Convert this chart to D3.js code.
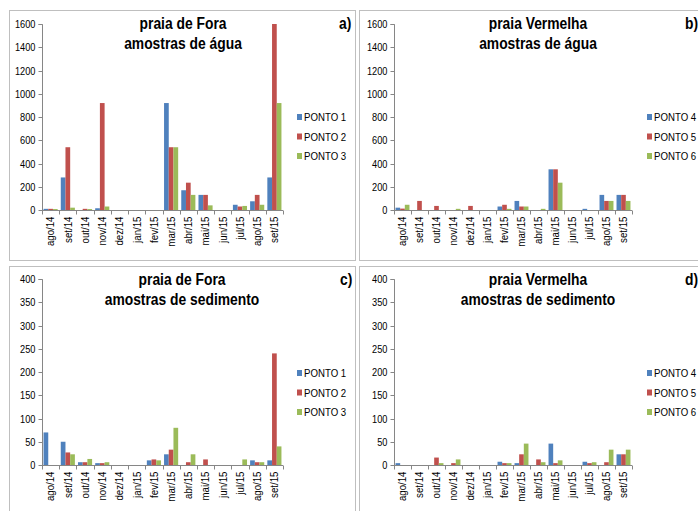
<!DOCTYPE html>
<html><head><meta charset="utf-8">
<script src="https://cdn.jsdelivr.net/npm/d3@7"></script>
<style>
html,body{margin:0;padding:0;background:#fff;}
svg{display:block;}
text{font-family:"Liberation Sans",Arial,sans-serif;}
</style></head>
<body>
<svg id="c" width="698" height="511"></svg>
<script>
const months = ["ago/14","set/14","out/14","nov/14","dez/14","jan/15","fev/15","mar/15","abr/15","mai/15","jun/15","jul/15","ago/15","set/15"];

// a) praia de Fora - água
const ponto1Agua = [10, 280, 0, 15, 0, 0, 0, 920, 170, 130, 0, 45, 75, 280];
const ponto2Agua = [10, 540, 10, 920, 0, 0, 0, 540, 235, 130, 0, 30, 130, 1600];
const ponto3Agua = [8, 20, 8, 30, 0, 0, 0, 540, 130, 40, 0, 35, 45, 920];
// b) praia Vermelha - água
const ponto4Agua = [20, 0, 0, 0, 0, 0, 30, 78, 0, 350, 0, 10, 130, 130];
const ponto5Agua = [12, 78, 35, 0, 35, 0, 45, 30, 0, 350, 0, 0, 78, 130];
const ponto6Agua = [45, 0, 0, 10, 0, 0, 10, 30, 10, 235, 0, 0, 78, 78];
// c) praia de Fora - sedimento
const ponto1Sed = [70, 50, 6, 4, 0, 0, 10, 23, 0, 0, 0, 0, 10, 10];
const ponto2Sed = [0, 27, 6, 4, 0, 0, 12, 33, 6, 12, 0, 0, 6, 240];
const ponto3Sed = [0, 23, 13, 6, 0, 0, 10, 80, 23, 0, 0, 12, 6, 40];
// d) praia Vermelha - sedimento
const ponto4Sed = [4, 0, 0, 0, 0, 0, 7, 4, 0, 46, 0, 7, 0, 23];
const ponto5Sed = [0, 0, 16, 4, 0, 0, 4, 23, 12, 4, 0, 4, 6, 23];
const ponto6Sed = [0, 0, 4, 12, 0, 0, 4, 46, 6, 10, 0, 6, 33, 33];

const aguaTicks = [0, 200, 400, 600, 800, 1000, 1200, 1400, 1600];
const sedTicks = [0, 50, 100, 150, 200, 250, 300, 350, 400];

const colors = ["#4F81BD", "#C0504D", "#9BBB59"];

const panels = [
  {box:[9.5,10.5,346,250], plot:{x0:42,x1:283,yT:24,y0:210}, max:1600, ticks:aguaTicks,
   title:["praia de Fora","amostras de água"], tx:183, letter:"a)", lx:339, names:["PONTO 1","PONTO 2","PONTO 3"], lgx:297,
   series:[ponto1Agua,ponto2Agua,ponto3Agua]},
  {box:[359.5,10.5,346,250], plot:{x0:394,x1:632,yT:24,y0:210}, max:1600, ticks:aguaTicks,
   title:["praia Vermelha","amostras de água"], tx:538, letter:"b)", lx:685, names:["PONTO 4","PONTO 5","PONTO 6"], lgx:647,
   series:[ponto4Agua,ponto5Agua,ponto6Agua]},
  {box:[9.5,266.5,346,250], plot:{x0:42,x1:283,yT:279,y0:465}, max:400, ticks:sedTicks,
   title:["praia de Fora","amostras de sedimento"], tx:182, letter:"c)", lx:340, names:["PONTO 1","PONTO 2","PONTO 3"], lgx:297,
   series:[ponto1Sed,ponto2Sed,ponto3Sed]},
  {box:[359.5,266.5,346,250], plot:{x0:394,x1:632,yT:279,y0:465}, max:400, ticks:sedTicks,
   title:["praia Vermelha","amostras de sedimento"], tx:538, letter:"d)", lx:685, names:["PONTO 4","PONTO 5","PONTO 6"], lgx:647,
   series:[ponto4Sed,ponto5Sed,ponto6Sed]}
];

const svg = d3.select("#c");
const axisColor = "#868686";
const narrow = 0.84;

function ctext(parent, x, y, str, size, bold, anchor) {
  const gg = parent.append("g").attr("transform", `translate(${x},${y}) scale(${narrow},1)`);
  return gg.append("text").attr("x",0).attr("y",0)
    .attr("text-anchor", anchor || "start")
    .attr("font-size", size + "px")
    .attr("font-weight", bold ? "bold" : "normal")
    .attr("fill", "#000").text(str);
}

panels.forEach(p => {
  const g = svg.append("g");
  g.append("rect").attr("x",p.box[0]).attr("y",p.box[1]).attr("width",p.box[2]).attr("height",p.box[3])
    .attr("fill","#fff").attr("stroke","#bfbfbf").attr("stroke-width",1);

  const pl = p.plot;
  const x = d3.scaleBand().domain(months).range([pl.x0, pl.x1]).padding(0);
  const bw = x.bandwidth();
  const xi = d3.scaleBand().domain([0,1,2]).range([bw*0.09, bw*0.91]).padding(0);
  const y = d3.scaleLinear().domain([0, p.max]).range([pl.y0, pl.yT]);

  // bars
  p.series.forEach((s, si) => {
    g.append("g").selectAll("rect").data(s).join("rect")
      .attr("x", (d,i) => x(months[i]) + xi(si))
      .attr("width", xi.bandwidth())
      .attr("y", d => y(d))
      .attr("height", d => y(0) - y(d))
      .attr("fill", colors[si]);
  });

  // y axis
  const ya = d3.axisLeft(y).tickValues(p.ticks).tickSize(4).tickPadding(3).tickFormat(d3.format("d"));
  const yg = g.append("g").attr("transform",`translate(${pl.x0+0.5},0)`).call(ya);
  yg.select(".domain").attr("stroke",axisColor).attr("d",`M-4,${pl.yT+0.5}H0V${pl.y0+0.5}`);
  yg.selectAll(".tick line").attr("stroke",axisColor);
  yg.selectAll(".tick").attr("transform", d => `translate(0,${Math.round(y(d))+0.5})`);
  yg.selectAll(".tick text").attr("font-size","11px").attr("fill","#000")
    .attr("font-family",'"Liberation Sans",Arial,sans-serif')
    .attr("x",null).attr("dy","0.35em")
    .attr("transform",`translate(-7,0) scale(${narrow},1)`);

  // x axis
  const xa = d3.axisBottom(x).tickSize(0).tickPadding(0);
  const xg = g.append("g").attr("transform",`translate(0,${pl.y0+0.5})`).call(xa);
  xg.select(".domain").attr("stroke",axisColor).attr("d",`M${pl.x0},0H${pl.x1}`);
  xg.selectAll(".tick text")
    .attr("transform",`translate(0,6) rotate(-90) scale(${narrow+0.04},1)`)
    .attr("x",0).attr("y",0).attr("dy","0.35em")
    .attr("text-anchor","end")
    .attr("font-size","11px").attr("fill","#000")
    .attr("font-family",'"Liberation Sans",Arial,sans-serif');
  // category boundary ticks
  const bounds = months.map(m => x(m)).concat([pl.x1]);
  xg.append("g").selectAll("line").data(bounds).join("line")
    .attr("x1", d => Math.round(d)+0.5).attr("x2", d => Math.round(d)+0.5)
    .attr("y1",0).attr("y2",4).attr("stroke",axisColor);

  // title
  ctext(g, p.tx, p.box[1]+18.5, p.title[0], 16.5, true, "middle");
  ctext(g, p.tx, p.box[1]+38, p.title[1], 16.5, true, "middle");
  ctext(g, p.lx, p.box[1]+18.5, p.letter, 16.5, true, "start");

  // legend
  const ly0 = p.box[1] + 106.5;
  p.names.forEach((n, i) => {
    const yy = ly0 + i*19.5;
    g.append("rect").attr("x",p.lgx).attr("y",yy-3).attr("width",5).attr("height",6).attr("fill",colors[i]);
    ctext(g, p.lgx+7, yy+4, n, 11.5, false, "start");
  });
});
</script>
</body></html>
